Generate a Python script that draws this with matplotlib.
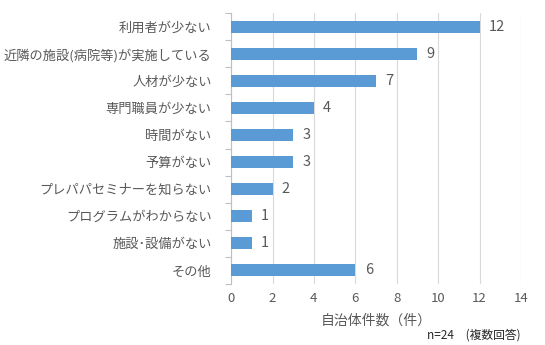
import matplotlib.pyplot as plt

plt.rcParams['font.family'] = ['Noto Sans CJK JP', 'DejaVu Sans']

categories = ['利用者が少ない', '近隣の施設(病院等)が実施している', '人材が少ない',
              '専門職員が少ない', '時間がない', '予算がない', 'プレパパセミナーを知らない',
              'プログラムがわからない', '施設･設備がない', 'その他']
counts = [12, 9, 7, 4, 3, 3, 2, 1, 1, 6]
xticks = [0, 2, 4, 6, 8, 10, 12, 14]

gray = '#595959'

fig = plt.figure(figsize=(5.45, 3.45), dpi=100)
ax = fig.add_axes([0.424, 0.177, 0.532, 0.785])

ypos = list(range(len(categories)))
ax.barh(ypos, counts, height=0.45, color='#5B9BD5', zorder=3)
for y, v in zip(ypos, counts):
    ax.text(v + 0.45, y, str(v), va='center', ha='left', fontsize=10.5, color=gray)

ax.set_ylim(len(categories) - 0.5, -0.5)
ax.set_xlim(0, 14)
ax.set_xticks(xticks)
ax.set_xticklabels([str(t) for t in xticks], fontsize=9.5, color=gray)
ax.set_yticks(ypos)
ax.set_yticklabels(categories, fontsize=9.5, color=gray)
ax.tick_params(axis='y', length=0, pad=14)
ax.tick_params(axis='x', length=0, pad=6)

# category boundary ticks on the left
ax.set_yticks([i - 0.5 for i in range(len(categories) + 1)], minor=True)
ax.tick_params(axis='y', which='minor', length=4, color='#BFBFBF', width=0.8)

ax.grid(axis='x', color='#D9D9D9', linewidth=0.8, zorder=0)
for s in ['top', 'right', 'bottom']:
    ax.spines[s].set_visible(False)
ax.spines['left'].set_color('#BFBFBF')
ax.spines['left'].set_linewidth(0.8)

ax.set_xlabel('自治体件数（件）', fontsize=10, color=gray, labelpad=6)
fig.text(0.955, 0.03, 'n=24　(複数回答)', ha='right', va='center', fontsize=8.5, color='#262626')

fig.savefig('out.png', dpi=100)
